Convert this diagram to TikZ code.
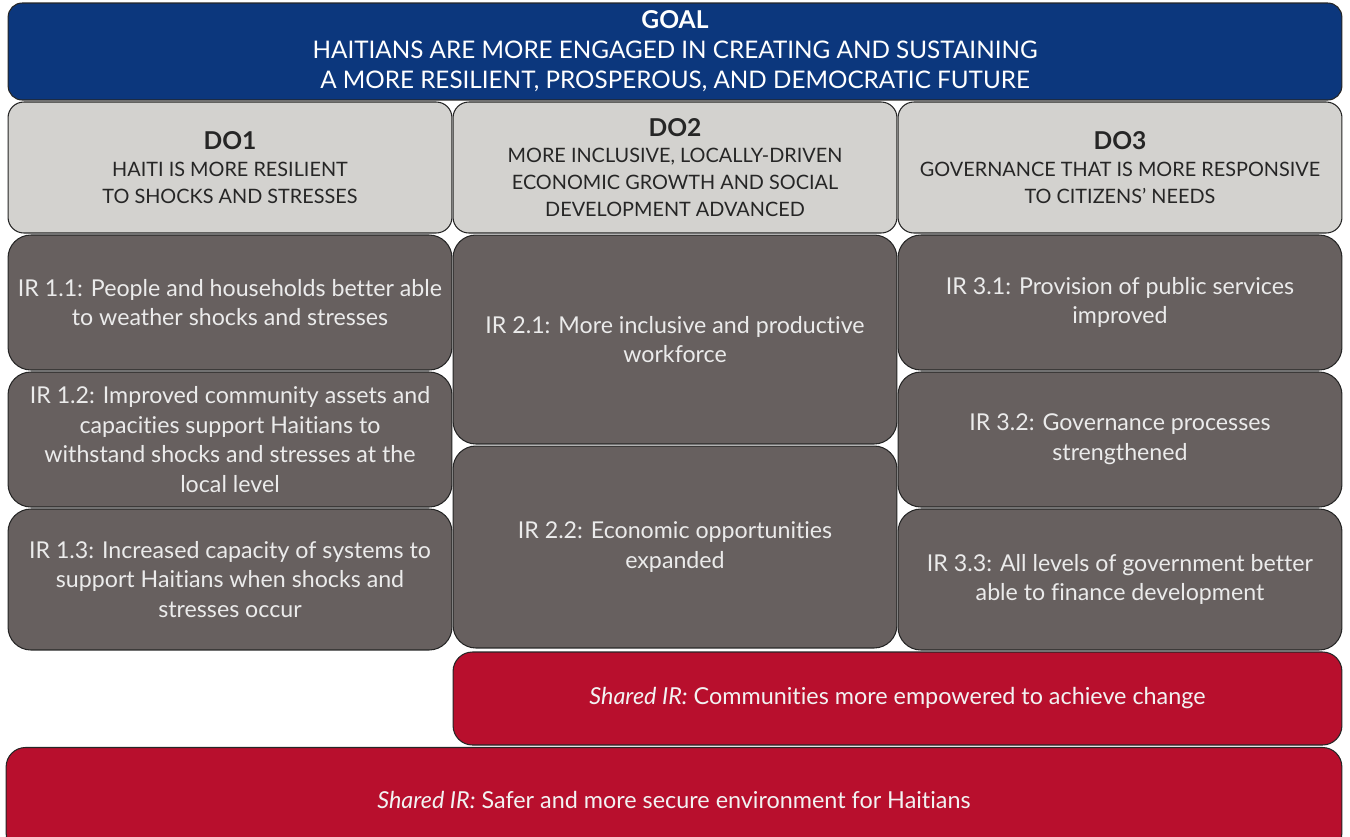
\documentclass[tikz,border=0pt]{standalone}
\usepackage{fontspec}
\setmainfont{Lato}[Ligatures=NoCommon]
\usepackage{tikz}
\usetikzlibrary{positioning}
\definecolor{goalblue}{RGB}{12,55,125}
\definecolor{dogray}{RGB}{211,210,207}
\definecolor{irgray}{RGB}{103,96,95}
\definecolor{sharedred}{RGB}{184,15,45}
\tikzset{
  rf box/.style={
    rectangle, rounded corners=9pt, draw=black!85, line width=0.6pt,
    align=center, inner sep=2pt
  },
  rf goal/.style={
    rf box, fill=goalblue, text=white, rounded corners=8pt,
    font=\fontsize{13.8}{17}\selectfont
  },
  rf do/.style={
    rf box, fill=dogray, text=black!85,
    font=\fontsize{11.3}{15.3}\selectfont
  },
  rf ir/.style={
    rf box, fill=irgray, text=white!92!black, rounded corners=13pt,
    font=\fontsize{13.2}{17}\selectfont
  },
  rf shared/.style={
    rf box, fill=sharedred, text=white!95!black, rounded corners=11pt,
    font=\fontsize{13.3}{17}\selectfont
  }
}

\begin{document}
\begin{tikzpicture}[x=0.02cm, y=-0.02cm]
  \useasboundingbox (0,0) rectangle (1350,836);
  \clip (0,0) rectangle (1350,836);

  % goal
  \node (goal) [rf goal, minimum width=26.68cm, minimum height=1.94cm] at (675,51.5)
    {{\fontsize{14}{17}\selectfont\bfseries GOAL}\\
     HAITIANS ARE MORE ENGAGED IN CREATING AND SUSTAINING\\
     A MORE RESILIENT, PROSPEROUS, AND DEMOCRATIC FUTURE};

  % development objectives
  \node (do1) [rf do, minimum width=8.88cm, minimum height=2.62cm] at (230,167.5)
    {{\fontsize{14}{17}\selectfont\bfseries DO1}\\
     HAITI IS MORE RESILIENT\\TO SHOCKS AND STRESSES};
  \node (do2) [rf do, minimum width=8.88cm, minimum height=2.62cm] at (675,167.5)
    {{\fontsize{14}{17}\selectfont\bfseries DO2}\\
     MORE INCLUSIVE, LOCALLY-DRIVEN\\ECONOMIC GROWTH AND SOCIAL\\DEVELOPMENT ADVANCED};
  \node (do3) [rf do, minimum width=8.88cm, minimum height=2.62cm] at (1120,167.5)
    {{\fontsize{14}{17}\selectfont\bfseries DO3}\\
     GOVERNANCE THAT IS MORE RESPONSIVE\\TO CITIZENS' NEEDS};

  % intermediate results, DO1
  \node (ir11) [rf ir, minimum width=8.88cm, minimum height=2.7cm] at (230,302.5)
    {IR 1.1: People and households better able\\to weather shocks and stresses};
  \node (ir12) [rf ir, minimum width=8.88cm, minimum height=2.7cm] at (230,439.5)
    {IR 1.2: Improved community assets and\\capacities support Haitians to\\withstand shocks and stresses at the\\local level};
  \node (ir13) [rf ir, minimum width=8.88cm, minimum height=2.82cm] at (230,579.5)
    {IR 1.3: Increased capacity of systems to\\support Haitians when shocks and\\stresses occur};

  % intermediate results, DO2
  \node (ir21) [rf ir, minimum width=8.88cm, minimum height=4.18cm] at (675,339.5)
    {IR 2.1: More inclusive and productive\\workforce};
  \node (ir22) [rf ir, minimum width=8.88cm, minimum height=4.04cm] at (675,547)
    {IR 2.2: Economic opportunities\\expanded};

  % intermediate results, DO3
  \node (ir31) [rf ir, minimum width=8.88cm, minimum height=2.7cm] at (1120,302.5)
    {IR 3.1: Provision of public services\\improved};
  \node (ir32) [rf ir, minimum width=8.88cm, minimum height=2.7cm] at (1120,439.5)
    {IR 3.2: Governance processes\\strengthened};
  \node (ir33) [rf ir, minimum width=8.88cm, minimum height=2.82cm] at (1120,579.5)
    {IR 3.3: All levels of government better\\able to finance development};

  % shared results
  \node (sh1) [rf shared, minimum width=17.78cm, minimum height=1.86cm] at (897.5,698.5)
    {\textit{Shared IR:} Communities more empowered to achieve change};
  \node (sh2) [rf shared, minimum width=26.72cm, minimum height=2.1cm] at (674,800)
    {\textit{Shared IR:} Safer and more secure environment for Haitians};
\end{tikzpicture}
\end{document}
